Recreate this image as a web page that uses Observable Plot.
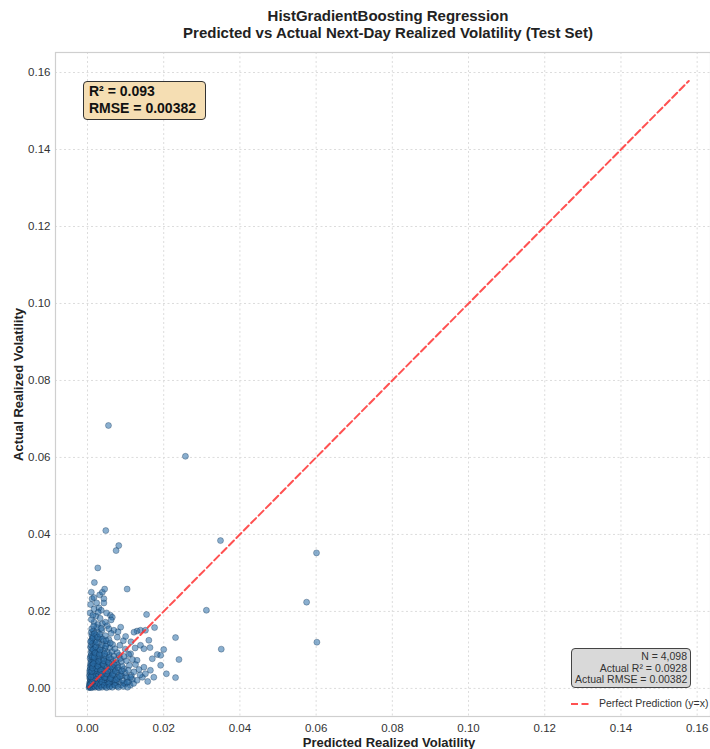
<!DOCTYPE html>
<html>
<head>
<meta charset="utf-8">
<script src="https://cdn.jsdelivr.net/npm/d3@7"></script>
<script src="https://cdn.jsdelivr.net/npm/@observablehq/plot@0.6"></script>
<style>
  html, body { margin: 0; padding: 0; background: white; }
  body { font-family: "Liberation Sans", Arial, sans-serif; color: #222; }
  #wrap { position: relative; width: 710px; height: 749px; overflow: hidden; }
  #title { position: absolute; left: 0; top: 7px; width: 776px; text-align: center; font-weight: bold; font-size: 15px; line-height: 17px; color: #222; }
  #chart { position: absolute; left: 0; top: 45px; }
  .box1 { position: absolute; left: 83px; top: 81px; width: 123px; height: 39px; box-sizing: border-box; background: #f5deb3; border: 1px solid #333; border-radius: 4px; padding: 1px 5px; font-weight: bold; font-size: 14px; line-height: 17px; color: #111; }
  .box2 { position: absolute; left: 571px; top: 648px; width: 120px; height: 40px; box-sizing: border-box; background: #d9d9d9; border: 1px solid #444; border-radius: 4px; padding: 2px 3px; font-size: 10.5px; line-height: 11.7px; text-align: right; color: #333; white-space: nowrap; }
  .legend { position: absolute; left: 570px; top: 697px; font-size: 10.5px; color: #333; white-space: nowrap; }
  .legend svg { vertical-align: middle; margin-right: 7px; }
</style>
</head>
<body>
<div id="wrap">
  <div id="title">HistGradientBoosting Regression<br>Predicted vs Actual Next-Day Realized Volatility (Test Set)</div>
  <div id="chart"></div>
  <div class="box1">R² = 0.093<br>RMSE = 0.00382</div>
  <div class="box2">N = 4,098<br>Actual R² = 0.0928<br>Actual RMSE = 0.00382</div>
  <div class="legend"><svg width="22" height="6"><line x1="1" y1="3" x2="21" y2="3" stroke="#ff3333" stroke-opacity="0.85" stroke-width="2" stroke-dasharray="7,3.5"/></svg>Perfect Prediction (y=x)</div>
</div>
<script>
// Axis tick values
const tickValues = [0, 0.02, 0.04, 0.06, 0.08, 0.10, 0.12, 0.14, 0.16];
const xLabel = "Predicted Realized Volatility";
const yLabel = "Actual Realized Volatility";

// Perfect-prediction reference line endpoints (min / max of values)
const diagRange = [0.0003, 0.1578];

// [predicted, actual] — isolated points
const outlierPoints = [
  [0.0055,0.0683],[0.0257,0.0603],[0.0349,0.0384],[0.0601,0.0352],[0.0575,0.0224],
  [0.0602,0.0120],[0.0312,0.0203],[0.0351,0.0102],[0.0048,0.0410],[0.0082,0.0371],
  [0.0075,0.0358],[0.0027,0.0313],[0.0018,0.0275],[0.0045,0.0258],[0.0104,0.0258]
];

// [predicted, actual] — sparse points around the cluster
const sparsePoints = [
  [0.0012,0.0233],[0.0017,0.0236],[0.0032,0.0243],[0.0043,0.0233],[0.0024,0.0222],
  [0.0008,0.0218],[0.0043,0.0222],[0.0030,0.0209],[0.0017,0.0206],[0.0036,0.0203],
  [0.0060,0.0190],[0.0065,0.0185],[0.0155,0.0192],[0.0176,0.0158],[0.0087,0.0159],
  [0.0069,0.0151],[0.0017,0.0172],[0.0027,0.0166],[0.0039,0.0168],[0.0047,0.0172],
  [0.0130,0.0149],[0.0139,0.0151],[0.0152,0.0151],[0.0122,0.0146],[0.0161,0.0125],
  [0.0139,0.0112],[0.0148,0.0103],[0.0164,0.0106],[0.0183,0.0088],[0.0170,0.0077],
  [0.0192,0.0086],[0.0200,0.0101],[0.0192,0.0060],[0.0231,0.0132],[0.0240,0.0075],
  [0.0207,0.0038],[0.0231,0.0028],[0.0165,0.0047],[0.0148,0.0055],[0.0130,0.0073],
  [0.0113,0.0090],[0.0174,0.0029],[0.0130,0.0021],[0.0113,0.0029],[0.0104,0.0016],
  [0.0144,0.0029],[0.0152,0.0038],[0.0039,0.0250],[0.0010,0.0250],
  [0.0007,0.0196],[0.0022,0.0188],[0.0010,0.0179],[0.0033,0.0182],[0.0052,0.0163],
  [0.0025,0.0158],[0.0062,0.0143],[0.0078,0.0133],[0.0094,0.0124],[0.0085,0.0112],
  [0.0099,0.0102],[0.0108,0.0088],[0.0118,0.0075],[0.0126,0.0062],[0.0135,0.0049],
  [0.0122,0.0043],[0.0138,0.0035],[0.0158,0.0018],[0.0110,0.0060],[0.0102,0.0072],
  [0.0096,0.0083],[0.0107,0.0047],[0.0125,0.0105],[0.0114,0.0121],[0.0100,0.0135],
  [0.0080,0.0147],[0.0056,0.0155],[0.0036,0.0156],[0.0016,0.0162],[0.0062,0.0178],
  [0.0050,0.0196],[0.0028,0.0198],[0.0014,0.0190]
];

// [predicted, actual] — dense core near the origin
const corePoints = [
  [0.0006,0.0004],[0.0009,0.0008],[0.0012,0.0005],[0.0015,0.0010],[0.0019,0.0006],[0.0023,0.0009],
  [0.0027,0.0004],[0.0031,0.0008],[0.0036,0.0006],[0.0041,0.0010],[0.0047,0.0005],[0.0053,0.0009],
  [0.0060,0.0007],[0.0068,0.0011],[0.0077,0.0006],[0.0088,0.0009],[0.0099,0.0012],[0.0112,0.0008],
  [0.0005,0.0013],[0.0007,0.0018],[0.0010,0.0015],[0.0014,0.0019],[0.0018,0.0013],[0.0022,0.0017],
  [0.0026,0.0014],[0.0031,0.0019],[0.0035,0.0015],[0.0040,0.0018],[0.0046,0.0013],[0.0052,0.0017],
  [0.0059,0.0014],[0.0066,0.0019],[0.0074,0.0015],[0.0083,0.0018],[0.0095,0.0014],[0.0108,0.0017],
  [0.0121,0.0013],
  [0.0006,0.0026],[0.0008,0.0021],[0.0011,0.0025],[0.0016,0.0022],[0.0020,0.0027],[0.0025,0.0023],
  [0.0029,0.0026],[0.0034,0.0021],[0.0039,0.0025],[0.0044,0.0022],[0.0050,0.0027],[0.0057,0.0023],
  [0.0064,0.0026],[0.0072,0.0021],[0.0081,0.0025],[0.0092,0.0022],[0.0104,0.0027],[0.0118,0.0024],
  [0.0005,0.0034],[0.0007,0.0029],[0.0012,0.0033],[0.0017,0.0030],[0.0021,0.0035],[0.0026,0.0031],
  [0.0031,0.0034],[0.0036,0.0029],[0.0042,0.0033],[0.0048,0.0030],[0.0055,0.0035],[0.0062,0.0031],
  [0.0070,0.0034],[0.0079,0.0029],[0.0090,0.0033],[0.0102,0.0031],[0.0115,0.0034],
  [0.0006,0.0042],[0.0009,0.0038],[0.0013,0.0041],[0.0018,0.0037],[0.0023,0.0043],[0.0028,0.0039],
  [0.0034,0.0042],[0.0040,0.0038],[0.0046,0.0041],[0.0053,0.0037],[0.0061,0.0043],[0.0069,0.0039],
  [0.0078,0.0042],[0.0088,0.0038],[0.0099,0.0041],
  [0.0006,0.0047],[0.0008,0.0051],[0.0012,0.0046],[0.0017,0.0050],[0.0022,0.0047],[0.0028,0.0052],
  [0.0033,0.0048],[0.0039,0.0051],[0.0046,0.0046],[0.0054,0.0050],[0.0062,0.0047],[0.0071,0.0052],
  [0.0082,0.0048],[0.0096,0.0051],
  [0.0007,0.0056],[0.0009,0.0060],[0.0014,0.0055],[0.0019,0.0059],[0.0025,0.0056],[0.0031,0.0061],
  [0.0037,0.0057],[0.0044,0.0060],[0.0051,0.0055],[0.0059,0.0059],[0.0068,0.0056],[0.0079,0.0061],
  [0.0091,0.0057],
  [0.0008,0.0065],[0.0010,0.0069],[0.0015,0.0064],[0.0020,0.0068],[0.0026,0.0065],[0.0032,0.0070],
  [0.0039,0.0066],[0.0047,0.0069],[0.0056,0.0064],[0.0065,0.0068],[0.0076,0.0066],[0.0089,0.0070],
  [0.0007,0.0078],[0.0011,0.0074],[0.0016,0.0077],[0.0022,0.0073],[0.0028,0.0079],[0.0035,0.0075],
  [0.0043,0.0078],[0.0052,0.0074],[0.0062,0.0077],[0.0074,0.0075],[0.0086,0.0078],
  [0.0008,0.0083],[0.0010,0.0087],[0.0017,0.0084],[0.0023,0.0088],[0.0030,0.0083],[0.0038,0.0087],
  [0.0047,0.0084],[0.0057,0.0088],[0.0069,0.0085],[0.0083,0.0086],
  [0.0009,0.0093],[0.0012,0.0097],[0.0018,0.0094],[0.0025,0.0098],[0.0033,0.0093],[0.0042,0.0097],
  [0.0052,0.0094],[0.0064,0.0096],[0.0078,0.0093],
  [0.0008,0.0107],[0.0011,0.0103],[0.0019,0.0106],[0.0027,0.0102],[0.0036,0.0107],[0.0046,0.0104],
  [0.0058,0.0106],[0.0072,0.0103],
  [0.0009,0.0113],[0.0013,0.0117],[0.0021,0.0114],[0.0029,0.0118],[0.0039,0.0113],[0.0051,0.0116],
  [0.0066,0.0114],
  [0.0010,0.0124],[0.0012,0.0128],[0.0020,0.0125],[0.0030,0.0129],[0.0042,0.0124],[0.0056,0.0127],
  [0.0011,0.0139],[0.0014,0.0135],[0.0023,0.0138],[0.0034,0.0134],[0.0047,0.0137],
  [0.0010,0.0146],[0.0016,0.0150],[0.0026,0.0147],[0.0038,0.0151],
  [0.0004,0.0002],[0.0005,0.0006],[0.0007,0.0003],[0.0008,0.0011],[0.0010,0.0002],[0.0011,0.0007],
  [0.0013,0.0013],[0.0014,0.0003],[0.0016,0.0007],[0.0017,0.0016],[0.0020,0.0003],[0.0021,0.0011],
  [0.0024,0.0020],[0.0025,0.0006],[0.0029,0.0013],[0.0030,0.0002],[0.0033,0.0024],[0.0034,0.0010],
  [0.0038,0.0003],[0.0038,0.0017],[0.0044,0.0008],[0.0045,0.0028],[0.0050,0.0002],[0.0056,0.0012],
  [0.0058,0.0004],[0.0065,0.0003],[0.0072,0.0008],[0.0081,0.0003],[0.0094,0.0005],[0.0105,0.0003],
  [0.0006,0.0009],[0.0009,0.0012],[0.0012,0.0019],[0.0015,0.0024],[0.0018,0.0028],[0.0022,0.0033],
  [0.0026,0.0038],[0.0030,0.0044],[0.0014,0.0035],[0.0019,0.0045],[0.0024,0.0051],[0.0012,0.0061],
  [0.0017,0.0072],[0.0013,0.0082],[0.0015,0.0101],
  [0.0009,0.0030],[0.0011,0.0044],[0.0013,0.0053],[0.0016,0.0064],[0.0018,0.0081],[0.0020,0.0092],
  [0.0022,0.0108],[0.0024,0.0120],[0.0027,0.0058],[0.0029,0.0070],[0.0031,0.0089],[0.0033,0.0100],
  [0.0035,0.0047],[0.0037,0.0036],[0.0041,0.0063],[0.0043,0.0072],[0.0045,0.0090],[0.0048,0.0110],
  [0.0050,0.0038],[0.0053,0.0045],[0.0055,0.0068],[0.0057,0.0080],[0.0060,0.0026],[0.0063,0.0055],
  [0.0066,0.0036],[0.0070,0.0062],[0.0073,0.0045],[0.0076,0.0023],[0.0080,0.0054],[0.0085,0.0031],
  [0.0090,0.0046],[0.0008,0.0122],[0.0014,0.0131],[0.0018,0.0142],[0.0026,0.0133],[0.0032,0.0141],
  [0.0040,0.0128],[0.0049,0.0124],[0.0060,0.0118],[0.0011,0.0155]
];

const points = [...corePoints, ...sparsePoints, ...outlierPoints].map(([pred, act]) => ({pred, act}));
const diag = diagRange.map(v => ({v}));
const fmt = d3.format(".2f");

const chart = Plot.plot({
  width: 710,
  height: 704,
  marginLeft: 55,
  marginRight: 0,
  marginTop: 7,
  marginBottom: 33,
  style: {fontFamily: "Liberation Sans, Arial, sans-serif", fontSize: "11.5px", color: "#333", background: "white", overflow: "visible"},
  x: {domain: [-0.0084, 0.1635]},
  y: {domain: [-0.0073, 0.1652]},
  marks: [
    Plot.gridX(tickValues, {stroke: "#dcdcdc", strokeOpacity: 1, strokeDasharray: "2,2.5"}),
    Plot.gridY(tickValues, {stroke: "#dcdcdc", strokeOpacity: 1, strokeDasharray: "2,2.5"}),
    Plot.frame({stroke: "#cfcfcf", strokeWidth: 1.2}),
    Plot.axisX(tickValues, {tickSize: 0, tickPadding: 7, tickFormat: fmt, label: null, fill: "#333"}),
    Plot.axisY(tickValues, {tickSize: 0, tickPadding: 5, tickFormat: fmt, label: null, fill: "#333"}),
    Plot.dot(points, {x: "pred", y: "act", r: 3, fill: "#2a6ea8", fillOpacity: 0.55, stroke: "#0d2d50", strokeWidth: 0.5, strokeOpacity: 0.65}),
    Plot.line(diag, {x: "v", y: "v", stroke: "#ff3333", strokeOpacity: 0.85, strokeWidth: 2, strokeDasharray: "7,3.5"}),
    Plot.text([xLabel], {frameAnchor: "bottom", dy: 26, dx: 6, lineAnchor: "middle", textAnchor: "middle", fontWeight: "bold", fontSize: 13, fill: "#222"}),
    Plot.text([yLabel], {frameAnchor: "left", dx: -37, rotate: -90, lineAnchor: "middle", textAnchor: "middle", fontWeight: "bold", fontSize: 13, fill: "#222"})
  ]
});
document.getElementById("chart").appendChild(chart);
</script>
</body>
</html>
